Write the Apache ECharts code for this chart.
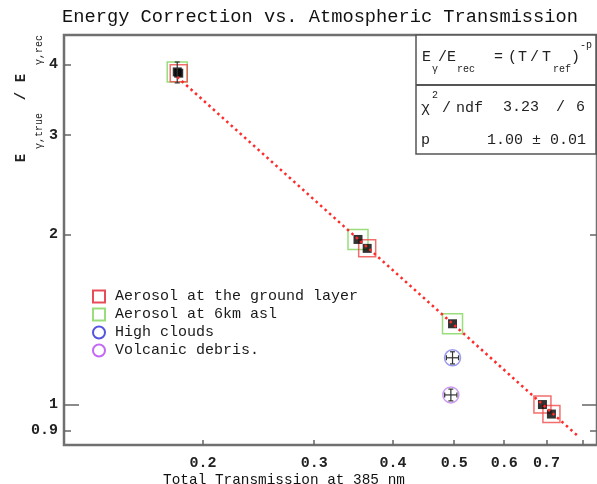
<!DOCTYPE html>
<html>
<head>
<meta charset="utf-8">
<script src="https://cdn.jsdelivr.net/npm/echarts@6/dist/echarts.min.js"></script>
<style>html,body{margin:0;padding:0;background:#fff}#c{width:597px;height:484px}</style>
</head>
<body>
<div id="c"></div>
<script>
const FONT = '"Liberation Mono", "DejaVu Sans Mono", monospace';
const titleText = 'Energy Correction vs. Atmospheric Transmission';
const xAxisTitle = 'Total Transmission at 385 nm';

const xTicks = [0.2, 0.3, 0.4, 0.5, 0.6, 0.7, 0.8];
const xTickLabels = [0.2, 0.3, 0.4, 0.5, 0.6, 0.7];
const yTicks = [0.9, 1, 2, 3, 4];
const yMajorTicks = [1];
const yTickLabels = [0.9, 1, 2, 3, 4];

const legendNames = ['Aerosol at the ground layer', 'Aerosol at 6km asl', 'High clouds', 'Volcanic debris.'];

const groundX = [0.183, 0.364, 0.690, 0.713];
const groundY = [3.86, 1.89, 1.00, 0.962];
const sixKmX = [0.182, 0.352, 0.497];
const sixKmY = [3.88, 1.96, 1.39];
const cloudsX = [0.497];
const cloudsY = [1.21];
const volcanicX = [0.494];
const volcanicY = [1.04];

// error bars: x, y, xlo, xhi, ylo, yhi
const errX   = [0.182, 0.497, 0.494];
const errY   = [3.87, 1.21, 1.04];
const errXlo = [0.182, 0.486, 0.483];
const errXhi = [0.182, 0.508, 0.505];
const errYlo = [3.71, 1.18, 1.015];
const errYhi = [4.04, 1.24, 1.065];

// fitted power law E/E = (T/Tref)^-p, endpoints
const fitX = [0.182, 0.785];
const fitY = [3.80, 0.88];

const zip = (a, b) => a.map((v, i) => [v, b[i]]);

const RED = '#f04848', GREEN = '#7fd65a', BLUE = '#2a2ad8', PURPLE = '#b444f2';
const fmt = v => String(+(+v).toPrecision(3));

const chart = echarts.init(document.getElementById('c'), null, {renderer: 'canvas'});

function tickAxis(pos, values, len, labels) {
  return {
    type: 'log', logBase: 10, position: pos, min: 0.848, max: 4.51,
    axisLine: {show: false}, splitLine: {show: false}, minorTick: {show: false},
    axisTick: {show: true, inside: true, length: len, customValues: values, lineStyle: {color: '#666', width: 1.5}},
    axisLabel: labels ? {show: true, customValues: labels, formatter: fmt, fontFamily: FONT, fontWeight: 'bold', fontSize: 15, color: '#222', margin: 6}
                      : {show: false}
  };
}

const txt = (x, y, text, size, extra) => Object.assign({
  type: 'text', x: x, y: y, z: 102,
  style: {text: text, font: size + 'px ' + FONT, fill: '#222', textAlign: 'left', textVerticalAlign: 'middle'}
}, extra || {});

chart.setOption({
  animation: false,
  grid: {left: 64, top: 35, right: 0, bottom: 39, show: true, borderColor: '#707070', borderWidth: 2.5, backgroundColor: '#fff'},
  xAxis: [{
    type: 'log', logBase: 10, min: 0.1204, max: 0.842, position: 'bottom',
    axisLine: {show: false}, splitLine: {show: false}, minorTick: {show: false},
    axisTick: {show: true, inside: true, length: 5, customValues: xTicks, lineStyle: {color: '#666', width: 1.5}},
    axisLabel: {customValues: xTickLabels, formatter: fmt, fontFamily: FONT, fontWeight: 'bold', fontSize: 15, color: '#222', margin: 11}
  }],
  yAxis: [
    tickAxis('left', yTicks, 7, yTickLabels),
    tickAxis('left', yMajorTicks, 15, null),
    tickAxis('right', yTicks, 7, null),
    tickAxis('right', yMajorTicks, 15, null)
  ],
  legend: {
    orient: 'vertical', left: 92, top: 289, padding: 0, itemWidth: 12, itemHeight: 12, itemGap: 3,
    textStyle: {fontFamily: FONT, fontSize: 15, color: '#1a1a1a', lineHeight: 15, padding: [0, 0, 0, 5]},
    data: [
      {name: legendNames[0], icon: 'rect', itemStyle: {color: 'rgba(0,0,0,0)', borderColor: '#e02030', borderWidth: 2}},
      {name: legendNames[1], icon: 'rect', itemStyle: {color: 'rgba(0,0,0,0)', borderColor: GREEN, borderWidth: 2}},
      {name: legendNames[2], icon: 'circle', itemStyle: {color: 'rgba(0,0,0,0)', borderColor: BLUE, borderWidth: 2}},
      {name: legendNames[3], icon: 'circle', itemStyle: {color: 'rgba(0,0,0,0)', borderColor: PURPLE, borderWidth: 2}}
    ]
  },
  graphic: [
    {type: 'text', x: 320, y: 17, style: {text: titleText, font: '18.7px ' + FONT, fill: '#111', textAlign: 'center', textVerticalAlign: 'middle'}},
    {type: 'text', x: 284, y: 480, style: {text: xAxisTitle, font: '14.4px ' + FONT, fill: '#111', textAlign: 'center', textVerticalAlign: 'middle'}},
    // y axis title (rotated)
    {type: 'text', x: 21, y: 158, rotation: Math.PI / 2, style: {text: 'E', font: 'bold 14px ' + FONT, fill: '#222', textAlign: 'center', textVerticalAlign: 'middle'}},
    {type: 'text', x: 39, y: 131, rotation: Math.PI / 2, style: {text: 'γ,true', font: '10px ' + FONT, fill: '#222', textAlign: 'center', textVerticalAlign: 'middle'}},
    {type: 'text', x: 21, y: 96, rotation: Math.PI / 2, style: {text: '/', font: 'bold 14px ' + FONT, fill: '#222', textAlign: 'center', textVerticalAlign: 'middle'}},
    {type: 'text', x: 21, y: 78, rotation: Math.PI / 2, style: {text: 'E', font: 'bold 14px ' + FONT, fill: '#222', textAlign: 'center', textVerticalAlign: 'middle'}},
    {type: 'text', x: 39, y: 50, rotation: Math.PI / 2, style: {text: 'γ,rec', font: '10px ' + FONT, fill: '#222', textAlign: 'center', textVerticalAlign: 'middle'}},
    // stats box
    {type: 'rect', shape: {x: 416, y: 35, width: 180, height: 119}, style: {fill: '#fff', stroke: '#555', lineWidth: 1.5}, z: 100},
    {type: 'line', shape: {x1: 416, y1: 85, x2: 596, y2: 85}, style: {stroke: '#555', lineWidth: 2}, z: 101},
    txt(422, 57, 'E', 15),
    txt(432, 69, 'γ', 10),
    txt(438, 57, '/E', 15),
    txt(457, 69, 'rec', 10),
    txt(494, 57, '=', 15),
    txt(508, 57, '(', 15),
    txt(518, 57, 'T', 15),
    txt(530, 57, '/', 15),
    txt(542, 57, 'T', 15),
    txt(553, 69, 'ref', 10),
    txt(571, 57, ')', 15),
    txt(580, 45, '-p', 10),
    txt(421, 108, 'χ', 15),
    txt(432, 95, '2', 10),
    txt(442, 108, '/', 15),
    txt(456, 108, 'ndf', 15),
    txt(503, 107, '3.23', 15),
    txt(556, 107, '/', 15),
    txt(576, 107, '6', 15),
    txt(421, 140, 'p', 15),
    txt(487, 140, '1.00 ± 0.01', 15)
  ],
  series: [
    {name: legendNames[1], type: 'scatter', data: zip(sixKmX, sixKmY), symbol: 'rect', symbolSize: 20,
     itemStyle: {color: 'rgba(0,0,0,0)', borderColor: GREEN, borderWidth: 1.5}, z: 2},
    {name: legendNames[0], type: 'scatter', data: zip(groundX, groundY), symbol: 'rect', symbolSize: 17,
     itemStyle: {color: 'rgba(0,0,0,0)', borderColor: RED, borderWidth: 1.5}, z: 3},
    {name: legendNames[2], type: 'scatter', data: zip(cloudsX, cloudsY), symbol: 'circle', symbolSize: 16,
     itemStyle: {color: 'rgba(0,0,0,0)', borderColor: '#8080ee', borderWidth: 1.5}, z: 3},
    {name: legendNames[3], type: 'scatter', data: zip(volcanicX, volcanicY), symbol: 'circle', symbolSize: 16,
     itemStyle: {color: 'rgba(0,0,0,0)', borderColor: '#c080f0', borderWidth: 1.5}, z: 3},
    {name: 'markers', type: 'scatter', data: zip(groundX, groundY).concat(zip(sixKmX, sixKmY)), symbol: 'rect', symbolSize: 9,
     itemStyle: {color: '#000'}, z: 4},
    {name: 'errors', type: 'custom', z: 5,
     data: errX.map((x, i) => [x, errY[i], errXlo[i], errXhi[i], errYlo[i], errYhi[i]]),
     renderItem: function (params, api) {
       const xl = api.coord([api.value(2), api.value(1)]);
       const xh = api.coord([api.value(3), api.value(1)]);
       const yl = api.coord([api.value(0), api.value(4)]);
       const yh = api.coord([api.value(0), api.value(5)]);
       const st = {stroke: '#333', lineWidth: 1.2};
       const ch = [
         {type: 'line', shape: {x1: yl[0], y1: yl[1], x2: yh[0], y2: yh[1]}, style: st},
         {type: 'line', shape: {x1: yl[0] - 2.5, y1: yl[1], x2: yl[0] + 2.5, y2: yl[1]}, style: st},
         {type: 'line', shape: {x1: yh[0] - 2.5, y1: yh[1], x2: yh[0] + 2.5, y2: yh[1]}, style: st}
       ];
       if (xh[0] - xl[0] > 1) {
         ch.push({type: 'line', shape: {x1: xl[0], y1: xl[1], x2: xh[0], y2: xh[1]}, style: st});
         ch.push({type: 'line', shape: {x1: xl[0], y1: xl[1] - 2.5, x2: xl[0], y2: xl[1] + 2.5}, style: st});
         ch.push({type: 'line', shape: {x1: xh[0], y1: xh[1] - 2.5, x2: xh[0], y2: xh[1] + 2.5}, style: st});
       }
       return {type: 'group', children: ch};
     }},
    {name: 'fit', type: 'line', data: zip(fitX, fitY), symbol: 'none', z: 6,
     lineStyle: {color: '#ff2a2a', width: 2.5, type: [2.5, 3.5]}}
  ]
});
</script>
</body>
</html>
